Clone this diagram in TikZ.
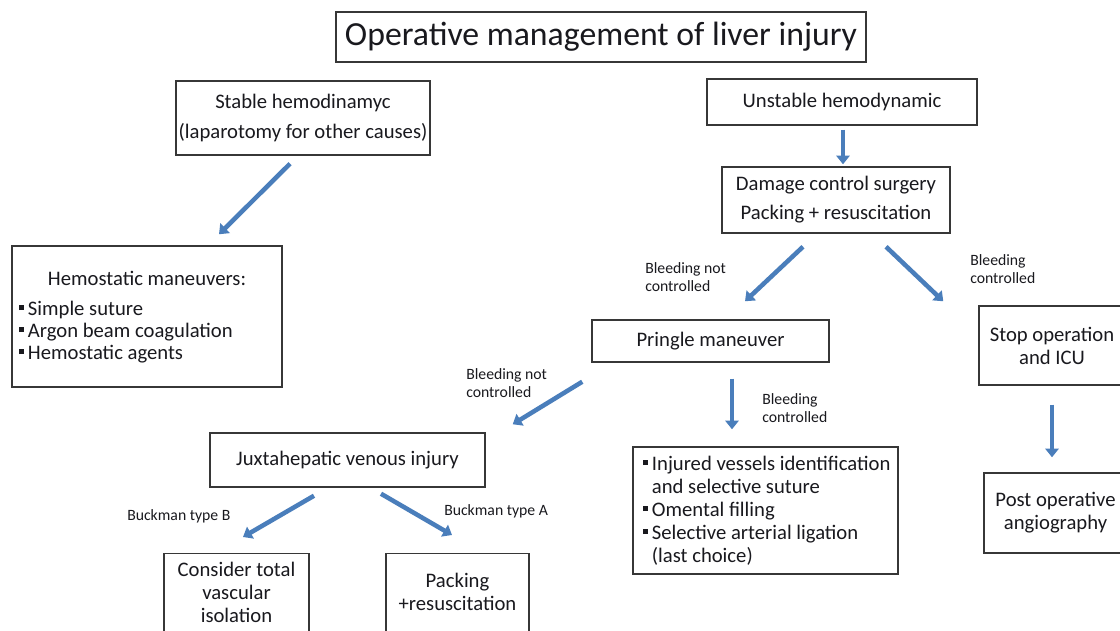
\documentclass[tikz,border=0pt]{standalone}
\usepackage{fontspec}
\setmainfont{Carlito}
\usetikzlibrary{arrows.meta,calc}
\definecolor{arrowblue}{RGB}{74,126,187}
\definecolor{boxline}{RGB}{55,55,55}
\definecolor{txt}{RGB}{25,25,30}
\newcommand\bodyfont{\fontsize{15.5pt}{17.25pt}\selectfont}
\newcommand\smallfont{\fontsize{11.8pt}{13.5pt}\selectfont}
\newcommand\titlefont{\fontsize{25.3pt}{30pt}\selectfont}
\newcommand\sqbul{\makebox[6.5pt][l]{\raisebox{0.25em}{\rule{3.6pt}{3.6pt}}}}
\newcommand\hang{\hspace*{6.5pt}}
\begin{document}
\begin{tikzpicture}[x=0.75pt,y=-0.75pt,
  box/.style={draw=boxline,line width=1.1pt,inner sep=0pt,align=center,font=\bodyfont,text=txt},
  txtnode/.style={inner sep=0pt,font=\bodyfont,text=txt},
  lbl/.style={inner sep=0pt,font=\smallfont,text=txt,align=left,anchor=west},
  flow/.style={draw=arrowblue,line width=3.4pt,-{Triangle[width=10pt,length=6.5pt]}}]
\useasboundingbox (0,0) rectangle (1120,631);
\fill[white] (0,0) rectangle (1120,631);

% boxes
\node[box,font=\titlefont,minimum width=397.5pt,minimum height=37.5pt] (title) at (601,37) {Operative management of liver injury};
\node[box,minimum width=190.5pt,minimum height=55.5pt] (stable) at (303,118) {Stable hemodinamyc\\[5.25pt](laparotomy for other causes)};
\node[box,minimum width=202.5pt,minimum height=34.5pt] (unstable) at (842,102) {Unstable hemodynamic};
\node[box,minimum width=171pt,minimum height=49.5pt] (damage) at (836,200) {Damage control surgery\\[4.5pt]Packing + resuscitation};
\node[box,minimum width=202.5pt,minimum height=105.75pt] (hemo) at (147,316.5) {};
\node[box,minimum width=177.75pt,minimum height=31.5pt] (pringle) at (710.5,341) {Pringle maneuver};
\node[box,minimum width=109.5pt,minimum height=59.25pt] (stop) at (1052,345.5) {Stop operation\\and ICU};
\node[box,minimum width=107.25pt,minimum height=60pt] (post) at (1055.5,513) {Post operative\\angiography};
\node[box,minimum width=206.25pt,minimum height=40.5pt] (juxta) at (347.5,460) {Juxtahepatic venous injury};
\node[box,minimum width=108.75pt,minimum height=67.5pt,anchor=north] (consider) at (236.5,553) {};
\node[box,minimum width=107.25pt,minimum height=67.5pt,anchor=north] (packing) at (457.5,553) {};
\node[box,minimum width=198.75pt,minimum height=95.25pt] (injured) at (765.5,510.5) {};

% texts inside boxes
\node[txtnode] (hemoH) at (147,278) {Hemostatic maneuvers:};
\node[txtnode,anchor=west,align=left,font=\fontsize{15.5pt}{16.5pt}\selectfont] (hemoL) at (19,332) {\sqbul Simple suture\\\sqbul Argon beam coagulation\\\sqbul Hemostatic agents};
\node[txtnode,align=center] (considerT) at (236.5,592) {Consider total\\vascular\\isolation};
\node[txtnode,align=center] (packingT) at (457.5,592) {Packing\\+resuscitation};
\node[txtnode,anchor=west,align=left] (injuredT) at (643,510.5) {\sqbul Injured vessels identification\\\hang and selective suture\\\sqbul Omental filling\\\sqbul Selective arterial ligation\\\hang (last choice)};

% labels
\node[lbl] (l1) at (645,277) {Bleeding not\\controlled};
\node[lbl] (l2) at (970,269) {Bleeding\\controlled};
\node[lbl] (l3) at (466,383.5) {Bleeding not\\controlled};
\node[lbl] (l4) at (762,408.5) {Bleeding\\controlled};
\node[lbl] (l5) at (127,516) {Buckman type B};
\node[lbl] (l6) at (444,511) {Buckman type A};

% arrows
\draw[flow] ([shift={(-13,8)}]stable.south) -- ([shift={(72,-11)}]hemo.north);
\draw[flow] ([shift={(1,4)}]unstable.south) -- ([shift={(7,-2)}]damage.north);
\draw[flow] ([shift={(-33,13)}]damage.south) -- ([shift={(34.5,-18)}]pringle.north);
\draw[flow] ([shift={(50,13)}]damage.south) -- ([shift={(-35,-4)}]stop.north west);
\draw[flow] ([shift={(-9,19)}]pringle.south west) -- ([shift={(27,-8)}]juxta.north east);
\draw[flow] ([shift={(21.5,16)}]pringle.south) -- ([shift={(-33.5,-17)}]injured.north);
\draw[flow] ([shift={(0,19)}]stop.south) -- ([shift={(-3.5,-15)}]post.north);
\draw[flow] ([shift={(-33.5,8)}]juxta.south) -- ([shift={(6.5,-16)}]consider.north);
\draw[flow] ([shift={(33.5,6)}]juxta.south) -- ([shift={(-5.5,-18)}]packing.north);
\end{tikzpicture}
\end{document}
